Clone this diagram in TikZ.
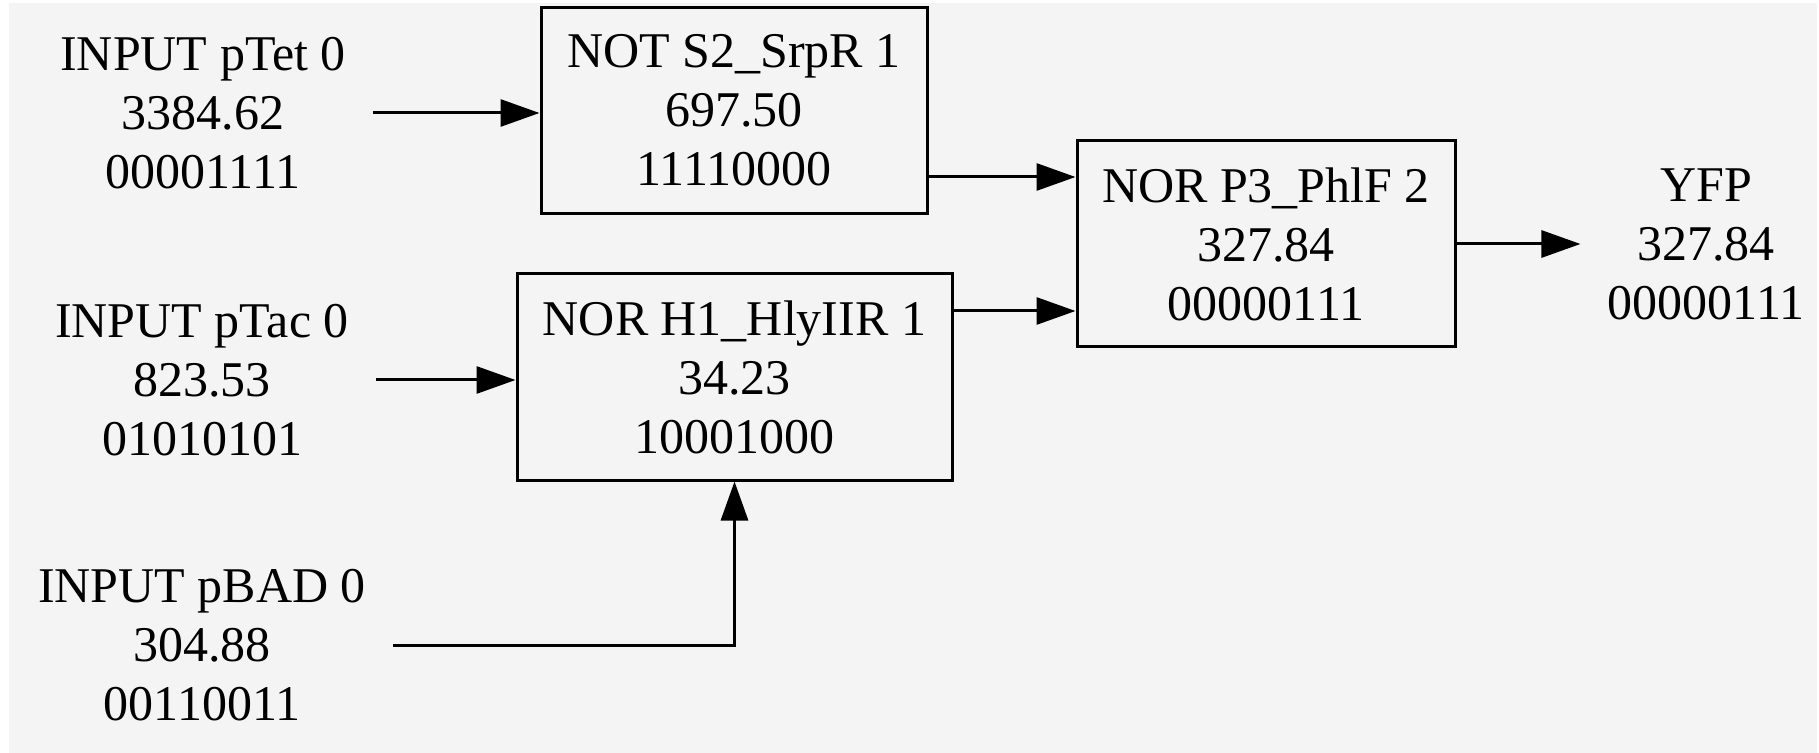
\documentclass[tikz,border=0pt]{standalone}
\usepackage{fontspec}
\setmainfont{Liberation Serif}
\usetikzlibrary{arrows.meta}
\definecolor{bg}{HTML}{F4F4F4}

\begin{document}
\begin{tikzpicture}[x=0.5pt,y=-0.5pt,
  txt/.style={font=\fontsize{25}{29.5}\selectfont, align=center},
  lbl/.style={txt, inner xsep=13.5pt, inner ysep=0pt},
  gate/.style={txt, draw, line width=1.5pt, minimum height=103pt, inner sep=0pt},
  wire/.style={line width=1.5pt, -{Triangle[length=19.5pt,width=13.5pt]}}]
\useasboundingbox (0,0) rectangle (1819,753);
\fill[bg] (9,3) rectangle (1817,753);

% inputs
\node[lbl] (ptet) at (203,113) {INPUT pTet 0\\3384.62\\00001111};
\node[lbl] (ptac) at (202,380) {INPUT pTac 0\\823.53\\01010101};
\node[lbl] (pbad) at (202,645) {INPUT pBAD 0\\304.88\\00110011};

% gates
\node[gate, minimum width=193pt] (not) at (734,110.5) {NOT S2\_SrpR 1\\697.50\\11110000};
\node[gate, minimum width=217.5pt] (h1) at (734.5,377) {NOR H1\_HlyIIR 1\\34.23\\10001000};
\node[gate, minimum width=189pt] (p3) at (1266,244) {NOR P3\_PhlF 2\\327.84\\00000111};

% output
\node[lbl] (yfp) at (1706,244) {YFP\\327.84\\00000111};

% rows where the gate inputs enter
\coordinate (rowa) at (0,177);
\coordinate (rowb) at (0,311);

% wires
\draw[wire] (ptet.east) -- (ptet.east -| not.west);
\draw[wire] (ptac.east) -- (ptac.east -| h1.west);
\draw[wire] (pbad.east) -| (h1.south);
\draw[wire] (not.east |- rowa) -- (p3.west |- rowa);
\draw[wire] (h1.east |- rowb) -- (p3.west |- rowb);
\draw[wire] (p3.east) -- (yfp.west);
\end{tikzpicture}
\end{document}
